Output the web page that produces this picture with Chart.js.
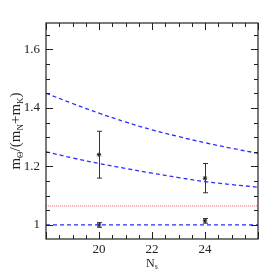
<!DOCTYPE html>
<html>
<head>
<meta charset="utf-8">
<script src="https://cdn.jsdelivr.net/npm/chart.js@4.4.1/dist/chart.umd.min.js"></script>
<style>
  html, body { margin: 0; padding: 0; background: #fff; }
  #wrap { width: 273px; height: 273px; }
</style>
</head>
<body>
<div id="wrap"><canvas id="chart"></canvas></div>
<script>
// curve sample points (N_s)
var curveX = [18, 19, 20, 21, 22, 23, 24, 25, 26];
var upperCurve = [1.450, 1.415, 1.382, 1.352, 1.325, 1.302, 1.281, 1.262, 1.245];
var lowerCurve = [1.250, 1.229, 1.210, 1.193, 1.177, 1.162, 1.148, 1.138, 1.129];
var baseLine = 1.0;
var redLine = 1.065;

// lattice points with errors
var pointX = [20, 24, 20, 24];
var pointY = [1.24, 1.16, 1.0, 1.014];
var pointErr = [0.08, 0.05, 0.008, 0.008];

// axis ticks
var xTicks = [18, 18.5, 19, 19.5, 20, 20.5, 21, 21.5, 22, 22.5, 23, 23.5, 24, 24.5, 25, 25.5, 26];
var xLabels = [20, 22, 24];
var yTicks = [1.0, 1.05, 1.1, 1.15, 1.2, 1.25, 1.3, 1.35, 1.4, 1.45, 1.5, 1.55, 1.6, 1.65];
var yLabels = [1.0, 1.2, 1.4, 1.6];

var FONT = '"Liberation Serif", "DejaVu Serif", serif';

function toPoints(xs, ys) {
    return xs.map(function (x, i) { return { x: x, y: ys[i] }; });
}

function isLabel(list, v) {
    return list.some(function (l) { return Math.abs(l - v) < 1e-6; });
}

// Plugin to draw the frame, inward ticks on all four sides, error bars and axis titles
var framePlugin = {
    id: 'frame',
    afterDatasetsDraw: function (chart) {
        var ctx = chart.ctx;
        var a = chart.chartArea;
        var xs = chart.scales.x;
        var ys = chart.scales.y;

        // error bars
        ctx.save();
        ctx.strokeStyle = '#333';
        ctx.lineWidth = 1;
        for (var i = 0; i < pointX.length; i++) {
            var px = Math.round(xs.getPixelForValue(pointX[i])) + 0.5;
            var top = ys.getPixelForValue(pointY[i] + pointErr[i]);
            var bot = ys.getPixelForValue(pointY[i] - pointErr[i]);
            ctx.beginPath();
            ctx.moveTo(px, top);
            ctx.lineTo(px, bot);
            ctx.moveTo(px - 2.5, top);
            ctx.lineTo(px + 2.5, top);
            ctx.moveTo(px - 2.5, bot);
            ctx.lineTo(px + 2.5, bot);
            ctx.stroke();
        }
        ctx.restore();

        // frame
        ctx.save();
        ctx.strokeStyle = '#222';
        ctx.lineWidth = 1.2;
        ctx.strokeRect(a.left, a.top, a.right - a.left, a.bottom - a.top);

        // inward ticks
        ctx.lineWidth = 1;
        ctx.beginPath();
        xTicks.forEach(function (v) {
            var p = Math.round(xs.getPixelForValue(v)) + 0.5;
            var len = (Math.abs(v % 2) < 1e-6) ? 7 : 4;
            ctx.moveTo(p, a.bottom);
            ctx.lineTo(p, a.bottom - len);
            ctx.moveTo(p, a.top);
            ctx.lineTo(p, a.top + len);
        });
        yTicks.forEach(function (v) {
            var p = Math.round(ys.getPixelForValue(v)) + 0.5;
            var len = isLabel(yLabels, v) ? 7 : 4;
            ctx.moveTo(a.left, p);
            ctx.lineTo(a.left + len, p);
            ctx.moveTo(a.right, p);
            ctx.lineTo(a.right - len, p);
        });
        ctx.stroke();
        ctx.restore();

        // x title: N_s
        ctx.save();
        ctx.fillStyle = '#222';
        ctx.textBaseline = 'alphabetic';
        ctx.font = '12px ' + FONT;
        var cx = (a.left + a.right) / 2;
        var nW = ctx.measureText('N').width;
        ctx.font = '8px ' + FONT;
        var sW = ctx.measureText('s').width;
        var x0 = cx - (nW + sW) / 2;
        ctx.font = '12px ' + FONT;
        ctx.fillText('N', x0, 267);
        ctx.font = '8px ' + FONT;
        ctx.fillText('s', x0 + nW, 269);
        ctx.restore();

        // y title: m_Θ/(m_N+m_K)
        var parts = [
            { t: 'm', sub: false }, { t: 'Θ', sub: true },
            { t: '/(m', sub: false }, { t: 'N', sub: true },
            { t: '+m', sub: false }, { t: 'K', sub: true },
            { t: ')', sub: false }
        ];
        ctx.save();
        ctx.fillStyle = '#222';
        ctx.translate(20, (a.top + a.bottom) / 2);
        ctx.rotate(-Math.PI / 2);
        var total = 0;
        parts.forEach(function (p) {
            ctx.font = (p.sub ? '9px ' : '15px ') + FONT;
            p.w = ctx.measureText(p.t).width;
            total += p.w;
        });
        var x = -total / 2;
        parts.forEach(function (p) {
            ctx.font = (p.sub ? '9px ' : '15px ') + FONT;
            ctx.fillText(p.t, x, p.sub ? 2.5 : 0);
            x += p.w;
        });
        ctx.restore();
    }
};

var blue = 'rgb(45, 45, 255)';

new Chart(document.getElementById('chart'), {
    type: 'scatter',
    data: {
        datasets: [
            {
                data: toPoints(curveX, upperCurve),
                showLine: true, borderColor: blue, borderWidth: 1.3,
                borderDash: [4, 3], pointRadius: 0, tension: 0.4
            },
            {
                data: toPoints(curveX, lowerCurve),
                showLine: true, borderColor: blue, borderWidth: 1.3,
                borderDash: [4, 3], pointRadius: 0, tension: 0.4
            },
            {
                data: toPoints([18, 26], [baseLine, baseLine]),
                showLine: true, borderColor: blue, borderWidth: 1.3,
                borderDash: [4, 3], pointRadius: 0
            },
            {
                data: toPoints([18, 26], [redLine, redLine]),
                showLine: true, borderColor: 'rgb(255, 90, 90)', borderWidth: 1,
                borderDash: [1, 1], pointRadius: 0
            },
            {
                data: toPoints(pointX, pointY),
                showLine: false, pointStyle: 'star', pointRadius: 2.2,
                borderColor: '#111', backgroundColor: '#111', borderWidth: 1
            }
        ]
    },
    options: {
        responsive: true,
        maintainAspectRatio: false,
        animation: false,
        layout: { padding: { top: 23, right: 15, left: 0, bottom: 0 } },
        plugins: { legend: { display: false }, tooltip: { enabled: false } },
        scales: {
            x: {
                type: 'linear', min: 18, max: 26,
                grid: { display: false, drawTicks: false },
                border: { display: false },
                afterBuildTicks: function (s) {
                    s.ticks = xTicks.map(function (v) { return { value: v }; });
                },
                afterFit: function (s) { s.height = 34; },
                ticks: {
                    autoSkip: false, maxRotation: 0, padding: 3, color: '#222',
                    font: { family: FONT, size: 13 },
                    callback: function (v) { return isLabel(xLabels, v) ? String(v) : ''; }
                }
            },
            y: {
                type: 'linear', min: 0.952, max: 1.69,
                grid: { display: false, drawTicks: false },
                border: { display: false },
                afterBuildTicks: function (s) {
                    s.ticks = yTicks.map(function (v) { return { value: v }; });
                },
                afterFit: function (s) { s.width = 46; },
                ticks: {
                    autoSkip: false, padding: 6, color: '#222',
                    font: { family: FONT, size: 13 },
                    callback: function (v) {
                        if (!isLabel(yLabels, v)) return '';
                        return Math.abs(v - 1) < 1e-6 ? '1' : v.toFixed(1);
                    }
                }
            }
        }
    },
    plugins: [framePlugin]
});
</script>
</body>
</html>
